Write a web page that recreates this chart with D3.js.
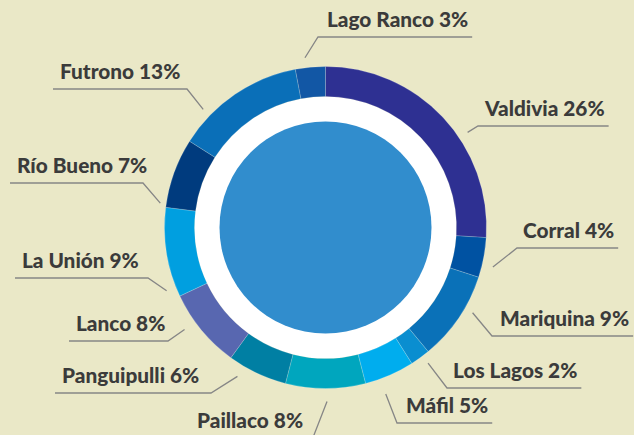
<!DOCTYPE html>
<html>
<head>
<meta charset="utf-8">
<script src="https://cdn.jsdelivr.net/npm/d3@7"></script>
<style>
  html, body { margin: 0; padding: 0; background: #eae8c7; }
  svg { display: block; }
  .lbl { font-family: Lato, "Open Sans", sans-serif; font-weight: 900; font-size: 20.8px; fill: #3b3b3b; }
</style>
</head>
<body>
<svg id="chart" width="634" height="435"></svg>
<script>
// Share of each commune, in clockwise order starting at twelve o'clock
const communes = ["Valdivia", "Corral", "Mariquina", "Los Lagos", "Máfil", "Paillaco",
                  "Panguipulli", "Lanco", "La Unión", "Río Bueno", "Futrono", "Lago Ranco"];
const shares = [26, 4, 9, 2, 5, 8, 6, 8, 9, 7, 13, 3];
const sliceColors = ["#2e3092", "#0052a2", "#0a71b8", "#0a8ed0", "#00adee", "#00a6be",
                     "#007fa3", "#5867b0", "#009fe0", "#003b7e", "#0a6fb8", "#1257a5"];

// Label placement: leader start (angle in degrees clockwise from top, radius),
// elbow x, line y, text left x, side the horizontal runs to
const labelLayout = [
  { a: 56.2,  r: 171, ex: 478, ly: 126,   tx: 485, side: "R" },
  { a: 103.3, r: 172, ex: 517, ly: 248,   tx: 523, side: "R" },
  { a: 120.1, r: 170, ex: 492, ly: 336,   tx: 500, side: "R" },
  { a: 142.9, r: 170, ex: 447, ly: 388,   tx: 453, side: "R" },
  { a: 160.1, r: 177, ex: 397, ly: 423,   tx: 406, side: "R" },
  { a: 179.5, r: 174, ex: 313, ly: 437.5, tx: 197, side: "L" },
  { a: 210.6, r: 173, ex: 211, ly: 393,   tx: 62,  side: "L" },
  { a: 234.1, r: 174, ex: 168, ly: 341,   tx: 76,  side: "L" },
  { a: 248.3, r: 171, ex: 148, ly: 278,   tx: 22,  side: "L" },
  { a: 278.4, r: 167, ex: 143, ly: 183,   tx: 17,  side: "L" },
  { a: 314.0, r: 170, ex: 187, ly: 89,    tx: 60,  side: "L" },
  { a: 353.1, r: 171, ex: 318, ly: 37,    tx: 327, side: "R" }
];

const svg = d3.select("#chart");
const cx = 325.5, cy = 227.5;
const outerR = 161, innerR = 131, coreR = 106;

const data = communes.map((name, i) => ({ name, value: shares[i], color: sliceColors[i] }));

const pie = d3.pie().value(d => d.value).sort(null);
const arc = d3.arc().innerRadius(innerR).outerRadius(outerR);

const g = svg.append("g").attr("transform", `translate(${cx},${cy})`);

// White ring between the outer band and the central disc
g.append("circle").attr("r", innerR).attr("fill", "#ffffff");

g.selectAll("path.slice")
  .data(pie(data))
  .join("path")
  .attr("class", "slice")
  .attr("d", arc)
  .attr("fill", d => d.data.color)
  .attr("stroke", "rgba(255,255,255,0.3)")
  .attr("stroke-width", 0.6);

// Central disc
g.append("circle").attr("r", coreR).attr("fill", "#318dcd");

// Labels with leader lines
const labels = svg.append("g");
data.forEach((d, i) => {
  const L = labelLayout[i];
  const rad = L.a * Math.PI / 180;
  const sx = cx + L.r * Math.sin(rad);
  const sy = cy - L.r * Math.cos(rad);

  const t = labels.append("text")
    .attr("class", "lbl")
    .attr("x", L.tx)
    .attr("y", L.ly - 9.8)
    .text(`${d.name} ${d.value}%`);
  const w = t.node().getComputedTextLength();

  let hx;
  if (L.side === "R") hx = Math.max(L.tx + w + 4, L.ex + 10);
  else hx = L.tx - 7;

  labels.insert("path", "text")
    .attr("d", `M${sx},${sy}L${L.ex},${L.ly}L${hx},${L.ly}`)
    .attr("fill", "none")
    .attr("stroke", "#868686")
    .attr("stroke-width", 1.3);
});
</script>
</body>
</html>
